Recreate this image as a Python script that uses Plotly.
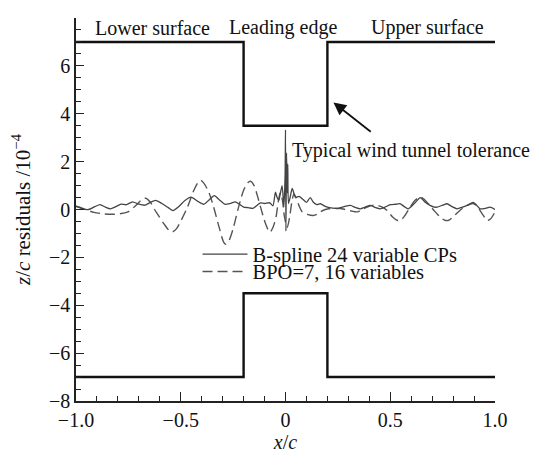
import plotly.graph_objects as go

# ---- data ----
tol_x = [-1.0, -0.2, 0.2, 1.0]
tol_upper = [7.0, 3.5, 7.0, 7.0]
tol_lower = [-7.0, -3.5, -7.0, -7.0]

solid_x = [-1.0, -0.975, -0.94, -0.91, -0.885, -0.86, -0.836, -0.81, -0.785, -0.76,
           -0.73, -0.70, -0.67, -0.645, -0.62, -0.59, -0.56, -0.537, -0.51, -0.48,
           -0.45, -0.42, -0.39, -0.365, -0.34, -0.315, -0.29, -0.265, -0.24, -0.22,
           -0.20, -0.18, -0.155, -0.135, -0.12, -0.10, -0.075, -0.06, -0.048, -0.04,
           -0.032, -0.024, -0.016, -0.008, -0.002, 0.0, 0.002, 0.005, 0.008, 0.011,
           0.014, 0.022, 0.032, 0.048, 0.065, 0.08, 0.1, 0.118, 0.133, 0.15,
           0.167, 0.185, 0.2, 0.225, 0.248, 0.28, 0.31, 0.335, 0.357, 0.38,
           0.405, 0.43, 0.452, 0.475, 0.5, 0.525, 0.548, 0.567, 0.586, 0.615,
           0.643, 0.667, 0.69, 0.71, 0.724, 0.75, 0.771, 0.795, 0.819, 0.845,
           0.867, 0.895, 0.91, 0.929, 0.955, 0.976, 1.0]
solid_y = [0.15, 0.05, 0.0, 0.12, 0.2, 0.1, 0.03, 0.12, 0.22, 0.2,
           0.32, 0.22, 0.18, 0.3, 0.38, 0.25, 0.08, -0.05, 0.12, 0.38,
           0.52, 0.35, 0.22, 0.4, 0.58, 0.4, 0.22, 0.25, 0.32, 0.22,
           0.1, 0.08, 0.05, 0.18, 0.28, 0.25, 0.28, 0.15, 0.72, 0.5,
           0.38, 0.7, 1.0, 0.1, 1.4, 3.33, -0.9, 2.36, 0.7, 1.9,
           0.25, 0.5, 0.88, 0.5, 0.55, 0.45, 0.3, 0.5, 0.3, 0.2,
           0.24, 0.15, 0.1, 0.06, 0.04, 0.12, 0.17, 0.08, 0.03, 0.1,
           0.17, 0.08, 0.03, 0.1, 0.2, 0.22, 0.24, 0.12, 0.03, 0.25,
           0.5, 0.3, 0.17, 0.1, 0.1, 0.18, 0.24, 0.12, 0.03, 0.1,
           0.17, 0.3, 0.2, 0.03, 0.05, 0.1, 0.0]

dashed_x = [-1.0, -0.976, -0.95, -0.914, -0.87, -0.833, -0.79, -0.752, -0.725, -0.705,
            -0.685, -0.667, -0.645, -0.625, -0.61, -0.58, -0.555, -0.538, -0.52, -0.495,
            -0.467, -0.44, -0.42, -0.405, -0.39, -0.365, -0.343, -0.315, -0.296, -0.286,
            -0.27, -0.25, -0.224, -0.2, -0.18, -0.167, -0.15, -0.135, -0.119, -0.095,
            -0.075, -0.06, -0.045, -0.035, -0.025, -0.015, -0.005, 0.008, 0.02, 0.03,
            0.04, 0.05, 0.065, 0.08, 0.104, 0.133, 0.15, 0.167, 0.19, 0.214,
            0.24, 0.262, 0.285, 0.31, 0.343, 0.365, 0.39, 0.415, 0.438, 0.462,
            0.486, 0.51, 0.533, 0.548, 0.57, 0.595, 0.62, 0.643, 0.665, 0.69,
            0.715, 0.738, 0.76, 0.776, 0.795, 0.819, 0.845, 0.867, 0.895, 0.915,
            0.929, 0.948, 0.962, 0.978, 1.0]
dashed_y = [0.12, 0.08, -0.02, -0.12, -0.18, -0.2, -0.18, -0.1, 0.08, 0.25,
            0.42, 0.47, 0.3, 0.0, -0.2, -0.6, -0.88, -0.93, -0.8, -0.4,
            0.12, 0.75, 1.1, 1.22, 1.1, 0.7, 0.1, -0.8, -1.35, -1.45,
            -1.3, -0.8, 0.1, 0.8, 1.12, 1.18, 1.0, 0.6, 0.1, -0.6,
            -0.95, -0.75, -0.3, 0.3, 0.7, 0.4, -0.3, -0.75, -0.3, 0.3,
            0.65, 0.5, 0.15, -0.1, -0.2, -0.25, -0.2, -0.1, 0.0, 0.04,
            0.05, 0.04, 0.0, -0.05, -0.1, 0.0, 0.1, 0.17, 0.17, 0.1,
            -0.05, -0.3, -0.45, -0.46, -0.25, 0.1, 0.4, 0.52, 0.4, 0.15,
            -0.1, -0.32, -0.45, -0.46, -0.35, -0.15, 0.05, 0.17, 0.25, 0.15,
            -0.05, -0.3, -0.46, -0.4, -0.1]

x_tickvals = [-1.0, -0.5, 0.0, 0.5, 1.0]
x_ticktext = ["\u22121.0", "\u22120.5", "0", "0.5", "1.0"]
y_tickvals = [-8, -6, -4, -2, 0, 2, 4, 6, 8]
y_ticktext = ["\u22128", "\u22126", "\u22124", "\u22122", "0", "2", "4", "6", "8"]

series_names = ["B-spline 24 variable CPs", "BPO=7, 16 variables"]
region_labels = ["Lower surface", "Leading edge", "Upper surface"]
region_x = [-0.633, -0.01, 0.68]

FONT = "Liberation Serif"
fig = go.Figure()

fig.add_trace(go.Scatter(x=tol_x, y=tol_upper, mode="lines", line_shape="hv",
                         line=dict(color="#111111", width=2.4), showlegend=False,
                         hoverinfo="skip"))
fig.add_trace(go.Scatter(x=tol_x, y=tol_lower, mode="lines", line_shape="hv",
                         line=dict(color="#111111", width=2.4), showlegend=False,
                         hoverinfo="skip"))

fig.add_trace(go.Scatter(x=dashed_x, y=dashed_y, mode="lines", name=series_names[1],
                         line=dict(color="#555555", width=1.4, dash="10px,5px", shape="spline", smoothing=0.8),
                         legend="legend2"))
fig.add_trace(go.Scatter(x=solid_x, y=solid_y, mode="lines", name=series_names[0],
                         line=dict(color="#444444", width=1.3, shape="spline", smoothing=0.6),
                         legend="legend"))

annotations = []
for t, xv in zip(region_labels, region_x):
    annotations.append(dict(x=xv, y=7.6, xref="x", yref="y", text=t, showarrow=False,
                            font=dict(family=FONT, size=20, color="#111111"),
                            xanchor="center", yanchor="middle"))
annotations.append(dict(x=0.022, y=2.45, xref="x", yref="y", text="Typical wind tunnel tolerance",
                        showarrow=False, font=dict(family=FONT, size=20, color="#111111"),
                        xanchor="left", yanchor="middle"))
annotations.append(dict(x=0.229, y=4.47, xref="x", yref="y", ax=0.414, ay=3.2,
                        axref="x", ayref="y", text="", showarrow=True, arrowhead=2,
                        arrowsize=1.4, arrowwidth=1.8, arrowcolor="#111111"))

fig.update_layout(
    width=539, height=453,
    margin=dict(l=68, r=52, t=10, b=60),
    paper_bgcolor="white", plot_bgcolor="white",
    font=dict(family=FONT, size=20, color="#111111"),
    annotations=annotations,
    legend=dict(x=0.29, y=0.435, xanchor="left", yanchor="top",
                bgcolor="rgba(0,0,0,0)", font=dict(family=FONT, size=20.5),
                borderwidth=0, itemwidth=45),
    legend2=dict(x=0.29, y=0.39, xanchor="left", yanchor="top",
                 bgcolor="rgba(0,0,0,0)", font=dict(family=FONT, size=20.5),
                 borderwidth=0, itemwidth=45),
    xaxis=dict(range=[-1.0, 1.0], tickvals=x_tickvals, ticktext=x_ticktext,
               ticks="inside", ticklen=9, tickwidth=1.2, tickcolor="#222",
               showline=True, linecolor="#222", linewidth=1.5, mirror=False,
               showgrid=False, zeroline=False, automargin=False,
               tickfont=dict(family=FONT, size=20),
               minor=dict(dtick=0.1, tick0=0, ticks="inside", ticklen=5, tickcolor="#222", showgrid=False),
               title=dict(text="<i>x</i>/<i>c</i>", font=dict(family=FONT, size=20), standoff=0)),
    yaxis=dict(range=[-8, 8], tickvals=y_tickvals, ticktext=y_ticktext,
               ticks="inside", ticklen=8, tickwidth=1.2, tickcolor="#222",
               showline=True, linecolor="#222", linewidth=1.5, mirror=False,
               showgrid=False, zeroline=False, automargin=False,
               tickfont=dict(family=FONT, size=20),
               minor=dict(dtick=0.5, tick0=0, ticks="inside", ticklen=5, tickcolor="#222", showgrid=False),
               title=dict(text="<i>z</i>/<i>c</i> residuals /10<sup>\u22124</sup>",
                          font=dict(family=FONT, size=21), standoff=20)),
)

fig.write_html("out.html")
